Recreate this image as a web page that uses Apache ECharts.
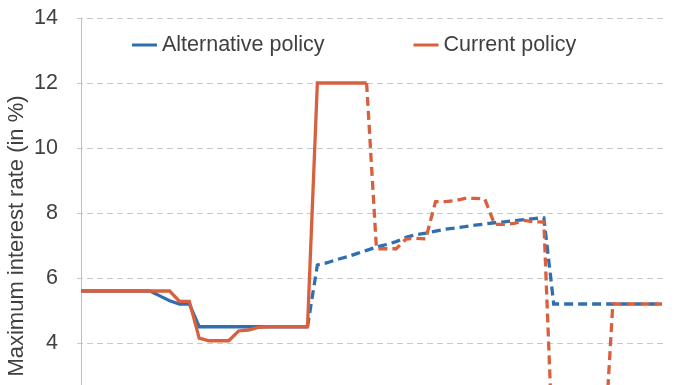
<!DOCTYPE html>
<html>
<head>
<meta charset="utf-8">
<script src="https://cdn.jsdelivr.net/npm/echarts@6/dist/echarts.min.js"></script>
<style>html,body{margin:0;padding:0;background:#fff;overflow:hidden;}#c{width:696px;height:503px;}</style>
</head>
<body>
<div id="c"></div>
<script>
// Period index 0..59 (x axis labels are cut off in the reference)
const periods = Array.from({length: 60}, (_, i) => i);
const yTicks = [0, 2, 4, 6, 8, 10, 12, 14];
const seriesNames = ['Alternative policy', 'Current policy'];

// Alternative policy: solid through index 23, dashed afterwards
const alternative = [
  5.6, 5.6, 5.6, 5.6, 5.6, 5.6, 5.6, 5.6, 5.45, 5.3,
  5.2, 5.2, 4.5, 4.5, 4.5, 4.5, 4.5, 4.5, 4.5, 4.5,
  4.5, 4.5, 4.5, 4.5, 6.4, 6.47, 6.57, 6.65, 6.75, 6.85,
  6.95, 7.03, 7.12, 7.25, 7.33, 7.38, 7.44, 7.5, 7.54, 7.58,
  7.63, 7.66, 7.7, 7.73, 7.76, 7.8, 7.83, 7.85, 5.2, 5.2,
  5.2, 5.2, 5.2, 5.2, 5.2, 5.2, 5.2, 5.2, 5.2, 5.2
];
const altSolidEnd = 23;

// Current policy: solid through index 29, dashed afterwards
const current = [
  5.6, 5.6, 5.6, 5.6, 5.6, 5.6, 5.6, 5.6, 5.6, 5.6,
  5.28, 5.28, 4.15, 4.07, 4.07, 4.07, 4.37, 4.4, 4.48, 4.5,
  4.5, 4.5, 4.5, 4.5, 12, 12, 12, 12, 12, 12,
  6.9, 6.9, 6.9, 7.2, 7.22, 7.2, 8.35, 8.35, 8.38, 8.45,
  8.45, 8.43, 7.65, 7.65, 7.68, 7.77, 7.73, 7.72, 0, 0,
  0, 0, 0, 0, 5.2, 5.2, 5.2, 5.2, 5.2, 5.2
];
const curSolidEnd = 29;

const BLUE = '#2f6fb0';
const RED = '#d9603e';
const FONT = 'Liberation Sans, Arial, sans-serif';

function pairs(vals, from, to) {
  const out = [];
  for (let i = from; i <= to; i++) out.push([periods[i], vals[i]]);
  return out;
}
function lineSeries(name, color, data, dashed) {
  return {
    name, type: 'line', data, showSymbol: false, symbol: 'none',
    lineStyle: { color, width: 3.3, type: dashed ? [9, 5] : 'solid', cap: 'butt', join: 'miter' },
    itemStyle: { color },
    emphasis: { disabled: true }, silent: true
  };
}

const chart = echarts.init(document.getElementById('c'), null, { renderer: 'canvas' });
chart.setOption({
  animation: false,
  backgroundColor: '#fff',
  textStyle: { fontFamily: FONT },
  grid: { left: 77, right: 31, top: 18, bottom: 30, containLabel: false },
  legend: {
    data: seriesNames,
    left: 127, top: 29,
    icon: 'rect', itemWidth: 25, itemHeight: 3, itemGap: 89,
    textStyle: { fontSize: 21.5, color: '#404040', fontFamily: FONT },
    selectedMode: false
  },
  xAxis: {
    type: 'value', min: -0.406, max: 59.3,
    axisLine: { show: false }, axisTick: { show: false },
    axisLabel: { show: false }, splitLine: { show: false }
  },
  yAxis: {
    type: 'value', min: yTicks[0], max: yTicks[yTicks.length - 1], interval: 2,
    axisLine: { show: true, lineStyle: { color: '#bfbfbf', width: 1 } },
    axisTick: { show: true, length: 5, lineStyle: { color: '#c8c8c8', type: [4, 3] } },
    axisLabel: { fontSize: 21.5, color: '#404040', margin: 19, fontFamily: FONT },
    splitLine: { show: true, lineStyle: { color: '#c8c8c8', width: 1, type: [6, 4] } }
  },
  graphic: [{
    type: 'text', x: 17, y: 236, rotation: Math.PI / 2,
    style: {
      text: 'Maximum interest rate (in %)', fill: '#404040',
      font: '22px ' + FONT, align: 'center', verticalAlign: 'middle'
    }
  }],
  series: [
    lineSeries(seriesNames[0], BLUE, pairs(alternative, 0, altSolidEnd), false),
    lineSeries(seriesNames[0], BLUE, pairs(alternative, altSolidEnd, periods.length - 1), true),
    lineSeries(seriesNames[1], RED, pairs(current, 0, curSolidEnd), false),
    lineSeries(seriesNames[1], RED, pairs(current, curSolidEnd, periods.length - 1), true)
  ]
});
</script>
</body>
</html>
